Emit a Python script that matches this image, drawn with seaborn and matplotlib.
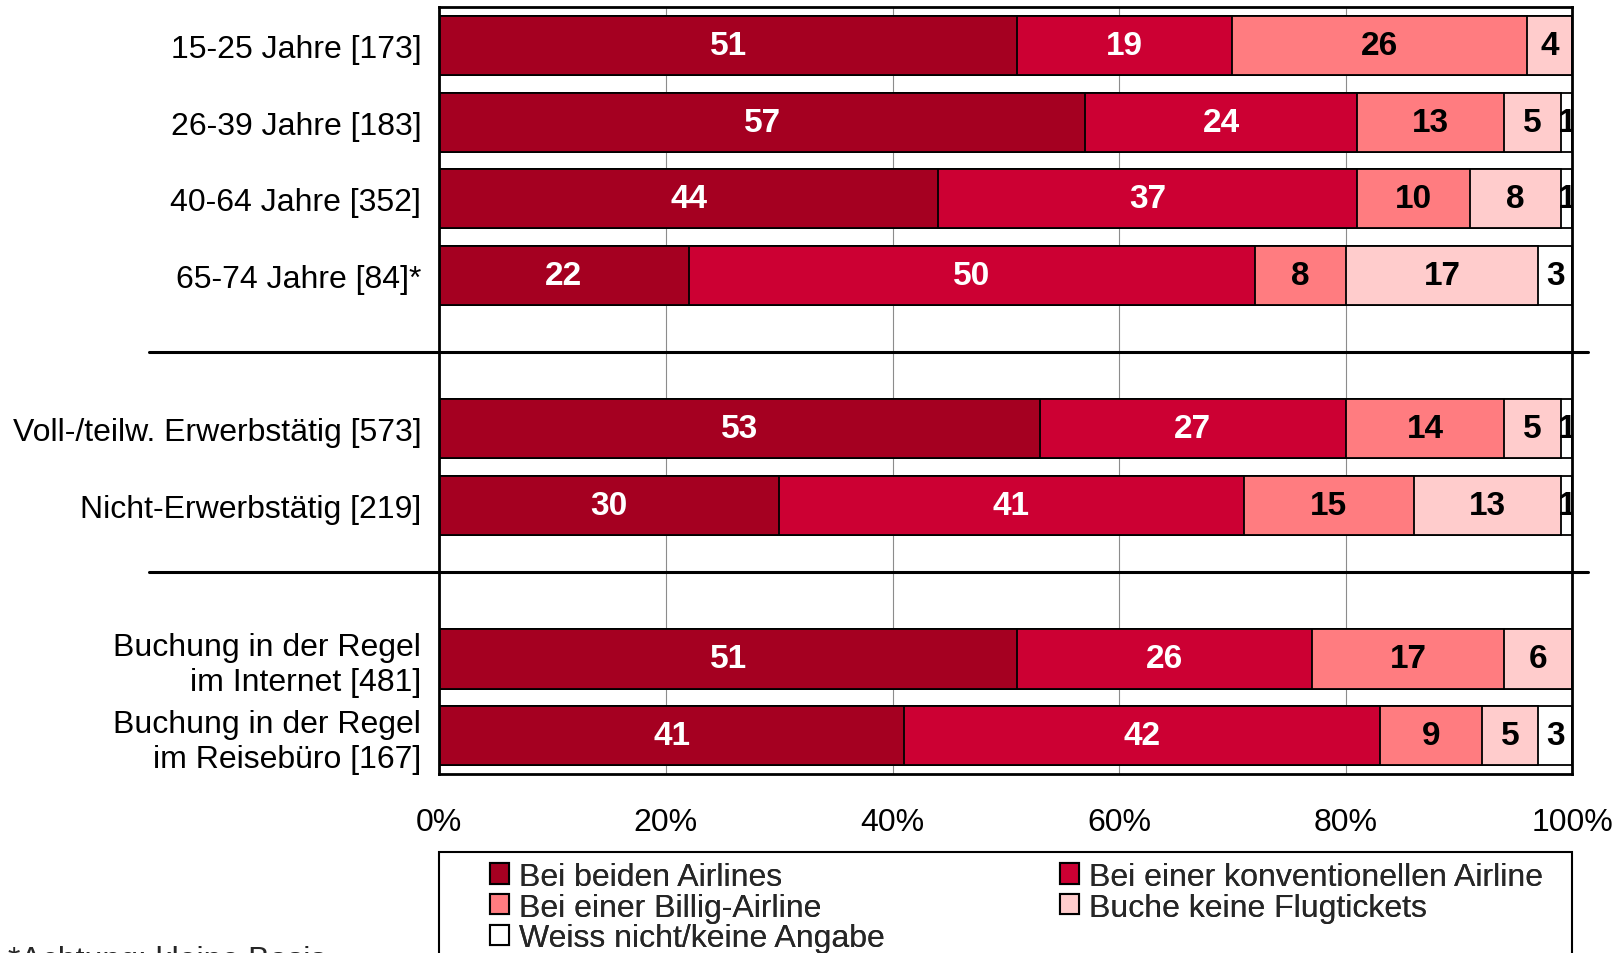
import numpy as np
import pandas as pd
import seaborn as sns
import matplotlib.pyplot as plt
from matplotlib.patches import Patch, Rectangle

sns.set_theme(style="white")
plt.rcParams['font.family'] = ['Liberation Sans', 'DejaVu Sans']

groups = ["15-25 Jahre [173]", "26-39 Jahre [183]", "40-64 Jahre [352]", "65-74 Jahre [84]*",
          "Voll-/teilw. Erwerbstätig [573]", "Nicht-Erwerbstätig [219]",
          "Buchung in der Regel\nim Internet [481]", "Buchung in der Regel\nim Reisebüro [167]"]
beide = [51, 57, 44, 22, 53, 30, 51, 41]
konv = [19, 24, 37, 50, 27, 41, 26, 42]
billig = [26, 13, 10, 8, 14, 15, 17, 9]
keine = [4, 5, 8, 17, 5, 13, 6, 5]
weiss = [0, 1, 1, 3, 1, 1, 0, 3]

series_names = ["Bei beiden Airlines", "Bei einer konventionellen Airline", "Bei einer Billig-Airline",
                "Buche keine Flugtickets", "Weiss nicht/keine Angabe"]
colors = ["#A50021", "#CC0033", "#FF7C80", "#FFCCCC", "#FFFFFF"]
text_colors = ["white", "white", "black", "black", "black"]

# spacer rows between the blocks
order = groups[:4] + [" "] + groups[4:6] + ["  "] + groups[6:]

df = pd.DataFrame({"label": groups, "beide": beide, "konv": konv, "billig": billig,
                   "keine": keine, "weiss": weiss})
cols = ["beide", "konv", "billig", "keine", "weiss"]
cum = df[cols].cumsum(axis=1)

fig = plt.figure(figsize=(16.21, 9.54), dpi=100)
ax = fig.add_axes([0.271, 0.1876, 0.699, 0.804])

# stacked bars: draw cumulative totals from longest to shortest
for i in range(len(cols) - 1, -1, -1):
    d = pd.DataFrame({"label": groups, "value": cum[cols[i]]})
    sns.barplot(data=d, x="value", y="label", order=order, orient="h", color=colors[i],
                saturation=1, errorbar=None, width=0.77, edgecolor="black", linewidth=1.3, ax=ax)

# value labels
for i, c in enumerate(cols):
    for g, v, right in zip(groups, df[c], cum[c]):
        if v > 0:
            ax.text(right - v / 2, order.index(g), str(v), ha="center", va="center",
                    color=text_colors[i], fontsize=24, fontweight="bold", clip_on=True)

ax.set_xlim(0, 100)
ax.set_ylim(len(order) - 0.5, -0.5)
ax.set_xticks([0, 20, 40, 60, 80, 100])
ax.set_xticklabels(["0%", "20%", "40%", "60%", "80%", "100%"])
ax.set_xlabel("")
ax.set_ylabel("")
ax.tick_params(axis="both", length=0, labelsize=23, colors="black")
ax.tick_params(axis="x", pad=24)
ax.tick_params(axis="y", pad=13)
ax.xaxis.grid(True, color="#8c8c8c", linewidth=0.8)
ax.set_axisbelow(True)
for s in ax.spines.values():
    s.set_color("black")
    s.set_linewidth(2)

# block separators
for y in [4.0, 6.87]:
    ax.plot([-0.256, 1.014], [y, y], transform=ax.get_yaxis_transform(), color="black",
            linewidth=2.2, clip_on=False)

# legend: frame box running off the bottom, two columns
fig.add_artist(Rectangle((0.271, -0.1), 0.699, 0.206, transform=fig.transFigure,
                         fill=False, edgecolor="black", linewidth=1.5, clip_on=False))
leg_cols = [([0, 2, 4], 0.3023), ([1, 3], 0.654)]
for idx, x0 in leg_cols:
    handles = [Patch(facecolor=colors[i], edgecolor="black", linewidth=1.5) for i in idx]
    labels = [series_names[i] for i in idx]
    leg = fig.legend(handles, labels, loc="upper left", bbox_to_anchor=(x0, 0.0955),
                     fontsize=23, frameon=False, handlelength=0.6, handleheight=0.6,
                     handletextpad=0.3, labelspacing=0.02, borderpad=0, borderaxespad=0)
    fig.add_artist(leg)

fig.text(0.005, 0.008, "*Achtung: kleine Basis", fontsize=23, ha="left", va="top")

fig.savefig("out.png", dpi=100)
